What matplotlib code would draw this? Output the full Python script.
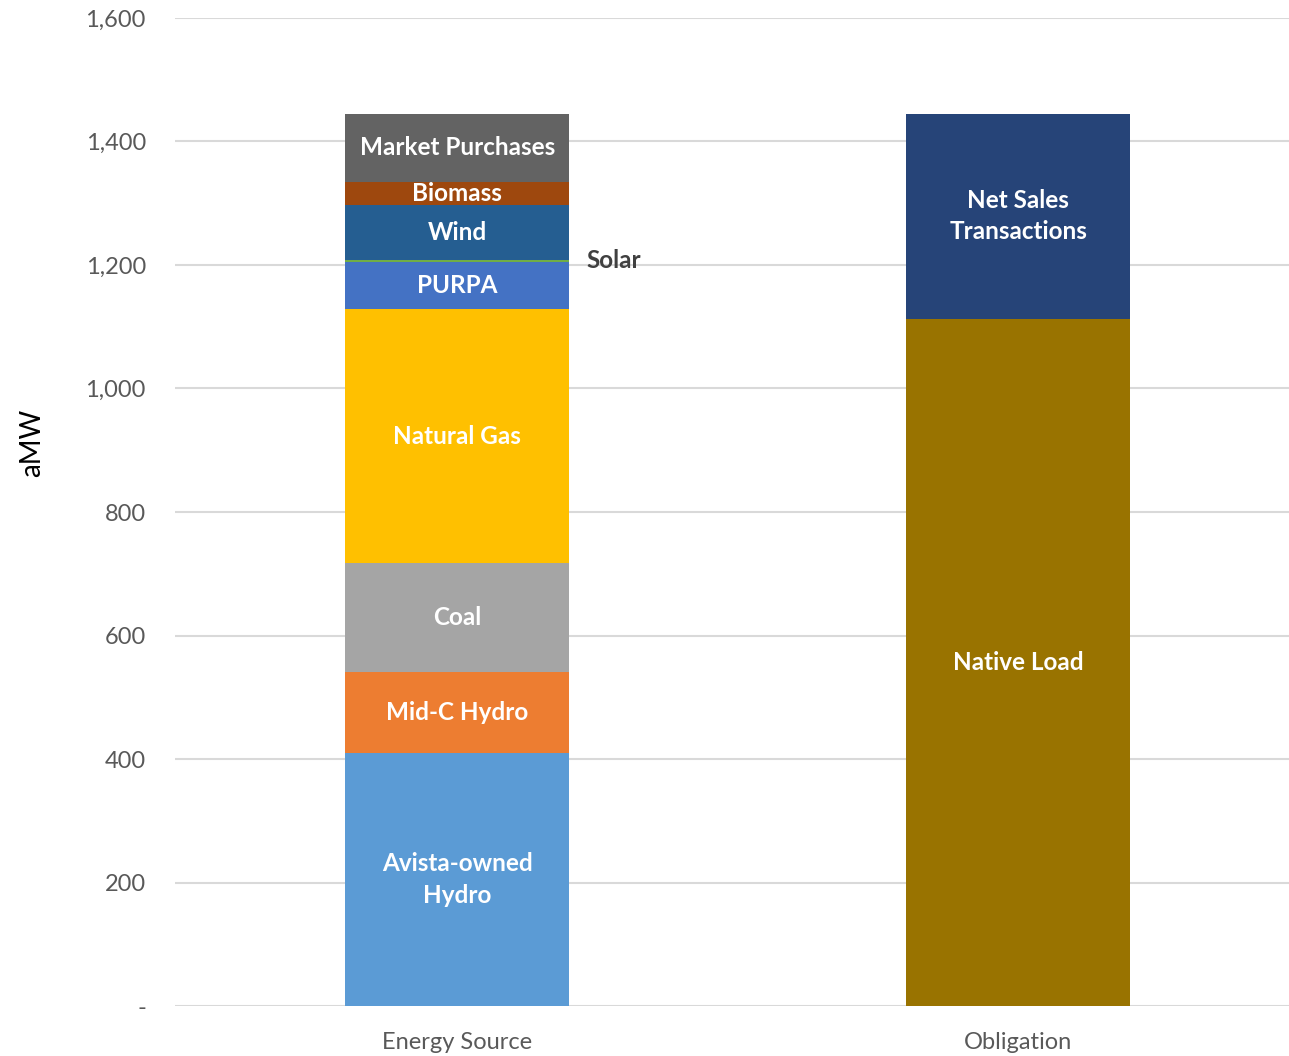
import matplotlib.pyplot as plt
import numpy as np

plt.rcParams['font.family'] = ['Lato', 'DejaVu Sans']

# --------------------
# Data (aMW)
# --------------------
categories = ['Energy Source', 'Obligation']

source_names = ['Avista-owned\nHydro', 'Mid-C Hydro', 'Coal', 'Natural Gas', 'PURPA',
                'Solar', 'Wind', 'Biomass', 'Market Purchases']
source_values = [410, 131, 176, 412, 76, 3, 89, 37, 111]
source_colors = ['#5B9BD5', '#ED7D31', '#A5A5A5', '#FFC000', '#4472C4',
                 '#70AD47', '#255E91', '#9E480E', '#636363']

oblig_names = ['Native Load', 'Net Sales\nTransactions']
oblig_values = [1113, 332]
oblig_colors = ['#997300', '#264478']

yticks = [0, 200, 400, 600, 800, 1000, 1200, 1400, 1600]
ytick_labels = ['-', '200', '400', '600', '800', '1,000', '1,200', '1,400', '1,600']

# --------------------
# Plot
# --------------------
fig = plt.figure(figsize=(12.89, 10.56), dpi=100)
ax = fig.add_axes([0.1358, 0.0473, 0.8642, 0.9357])

x = np.arange(len(categories))
width = 0.40

def stack(xpos, names, values, colors, small=()):
    bottom = 0
    for name, val, col in zip(names, values, colors):
        ax.bar(xpos, val, width, bottom=bottom, color=col, zorder=3)
        if name in small:
            # thin segment: label sits to the right of the bar
            ax.text(xpos + width / 2 + 0.03, bottom + val / 2, name, ha='left', va='center',
                    fontsize=17.5, fontweight='bold', color='#404040', zorder=4)
        else:
            ax.text(xpos, bottom + val / 2, name, ha='center', va='center',
                    fontsize=17.5, fontweight='bold', color='white', zorder=4,
                    linespacing=1.45)
        bottom += val

stack(x[0], source_names, source_values, source_colors, small=('Solar',))
stack(x[1], oblig_names, oblig_values, oblig_colors)

ax.set_xlim(-0.503, 1.483)
ax.set_ylim(0, 1600)
ax.set_yticks(yticks)
ax.set_yticklabels(ytick_labels)
ax.set_xticks(x)
ax.set_xticklabels(categories)
ax.tick_params(axis='both', length=0, labelsize=17, labelcolor='#595959')
ax.tick_params(axis='y', pad=21)
ax.tick_params(axis='x', pad=19)
ax.yaxis.grid(True, color='#D9D9D9', linewidth=1.5, zorder=0)
ax.set_axisbelow(True)
for s in ax.spines.values():
    s.set_visible(False)

ax.set_ylabel('aMW', fontsize=20, color='black')
ax.yaxis.set_label_coords(-0.117, 0.57)

fig.savefig('out.png', dpi=100)
